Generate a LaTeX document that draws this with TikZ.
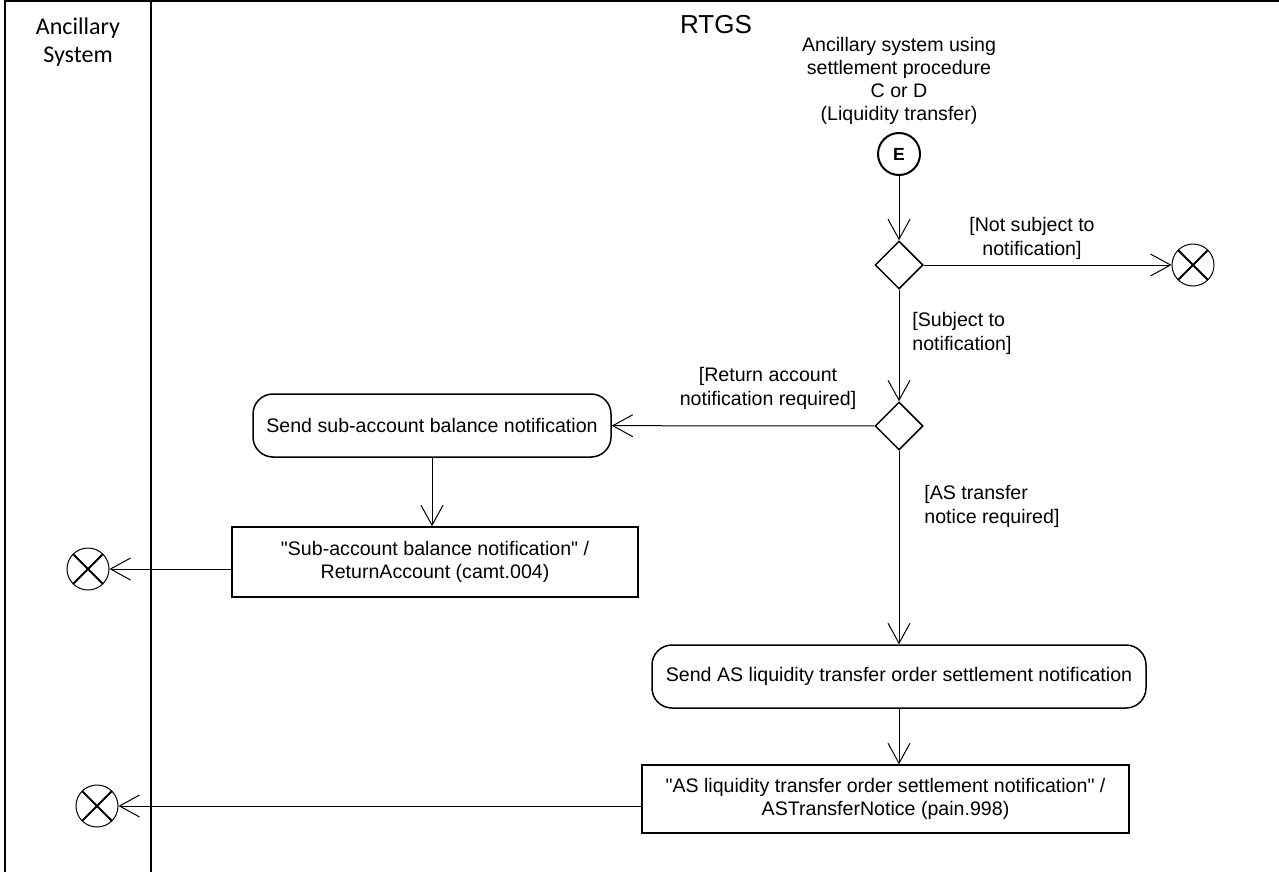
\documentclass[tikz,border=0pt]{standalone}
\usepackage{fontspec}
\setmainfont{Liberation Sans}
\newfontfamily\arialfont{Liberation Sans}
\newfontfamily\lanefont{Carlito}
\usepackage{tikz}
\usetikzlibrary{positioning, arrows.meta, shapes.geometric}
\newcommand{\txtsize}{\fontsize{9.8}{11.6}\selectfont}

\begin{document}
\begin{tikzpicture}[x=0.5pt, y=-0.5pt, font=\arialfont\txtsize,
    act/.style={draw, line width=0.75pt, rounded corners=10pt, minimum height=31.5pt, align=center},
    msg/.style={draw, line width=0.75pt, align=center},
    decide/.style={diamond, draw, line width=0.75pt, minimum size=24pt, inner sep=0pt},
    stopnode/.style={circle, draw, line width=0.5pt, minimum size=21pt, inner sep=0pt,
      path picture={\draw[line width=1pt]
        (path picture bounding box.north west) -- (path picture bounding box.south east)
        (path picture bounding box.north east) -- (path picture bounding box.south west);}},
    flow/.style={line width=0.5pt, -{Straight Barb[length=10pt, width=11pt]}},
    guard/.style={align=center, inner sep=0pt}]
  \useasboundingbox (0,0) rectangle (1279,872);

  % swimlanes
  \draw[line width=1pt] (1279,1) -- (5,1) -- (5,872);
  \draw[line width=1pt] (151,1) -- (151,872);
  \node[font=\lanefont\fontsize{12}{14}\selectfont, align=center] (lanea) at (78,42) {Ancillary\\System};
  \node[font=\arialfont\fontsize{13}{15}\selectfont] (laneb) at (716,25) {RTGS};

  % entry point
  \node[align=center] (startlbl) at (899,81)
        {Ancillary system using\\settlement procedure\\C or D\\(Liquidity transfer)};
  \node[circle, draw, line width=1pt, minimum size=21pt, inner sep=0pt,
        font=\arialfont\bfseries\fontsize{8.8}{10}\selectfont] (entry) at (899,154) {E};

  % decisions
  \node[decide] (dec1) at (899,265) {};
  \node[decide] (dec2) at (899,426) {};
  \node[stopnode] (stopa) at (1193,265) {};

  % sub-account branch
  \node[act, minimum width=179pt] (sendsub) at (432,425.5) {Send sub-account balance notification};
  \node[msg, minimum width=203pt, minimum height=35pt] (msgsub) at (435,562)
        {"Sub-account balance notification" /\\ReturnAccount (camt.004)};
  \node[stopnode] (stopb) at (88,569) {};

  % AS transfer branch
  \node[act, minimum width=247pt] (sendas) at (899,676.5)
        {Send AS liquidity transfer order settlement notification};
  \node[msg, minimum width=243.5pt, minimum height=34pt] (msgas) at (885.5,799)
        {"AS liquidity transfer order settlement notification" /\\ASTransferNotice (pain.998)};
  \node[stopnode] (stopc) at (97,806) {};

  % guards
  \node[guard] (gnot) at (1032,238.5) {[Not subject to\\notification]};
  \node[guard, align=left, anchor=west] (gsub) at (912,333.5) {[Subject to\\notification]};
  \node[guard] (gret) at (768,388.5) {[Return account\\notification required]};
  \node[guard, align=left, anchor=west] (gas) at (924,506.5) {[AS transfer\\notice required]};

  \draw[flow] (entry) -- (dec1);
  \draw[flow] (dec1) -- (stopa);
  \draw[flow] (dec1) -- (dec2);
  \draw[flow] (dec2) -- (sendsub);
  \draw[flow] (sendsub) -- (sendsub |- msgsub.north);
  \draw[flow] (msgsub.west |- stopb) -- (stopb);
  \draw[flow] (dec2) -- (dec2 |- sendas.north);
  \draw[flow] (sendas) -- (sendas |- msgas.north);
  \draw[flow] (msgas.west |- stopc) -- (stopc);
\end{tikzpicture}
\end{document}
